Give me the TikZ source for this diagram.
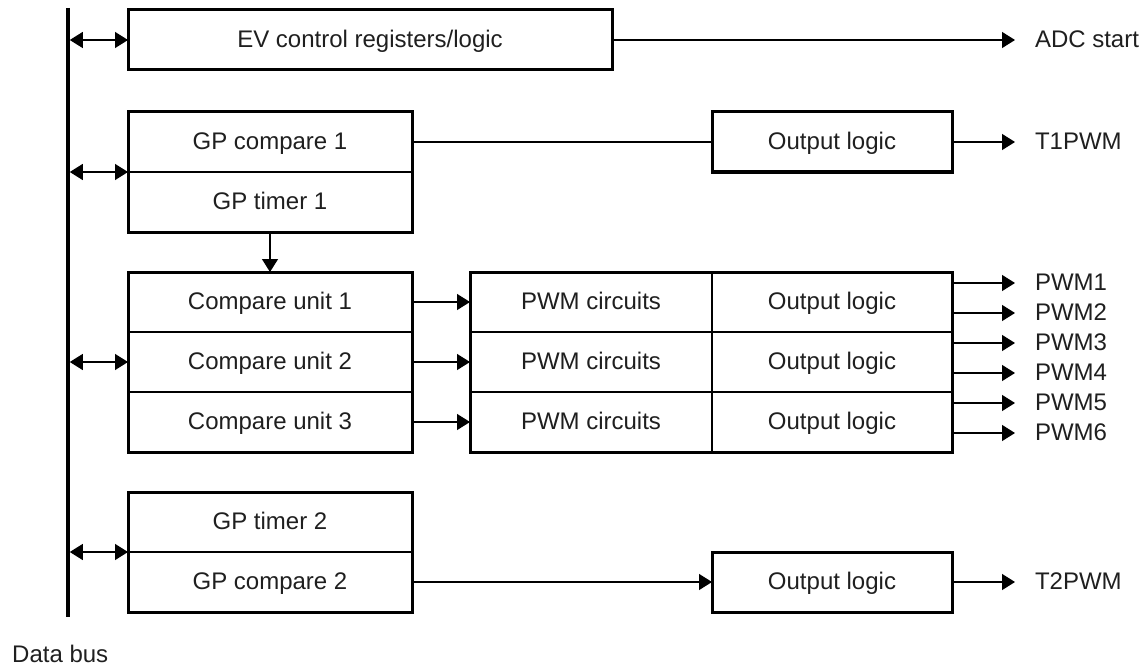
\documentclass[tikz,border=0pt]{standalone}
\usepackage{fontspec}
\setmainfont{Liberation Sans}
\usetikzlibrary{arrows.meta}
\begin{document}
\begin{tikzpicture}[x=1pt,y=-1pt,
  >={Triangle[length=13pt,width=16pt]},
  txt/.style={font=\fontsize{24}{28}\selectfont, text=black!88},
  cell/.style={txt, draw, line width=1.3pt, inner sep=0pt, outer sep=0pt, minimum height=60pt,
    text height=17.3pt, text depth=1.9pt},
  wide/.style={cell, minimum width=284pt},
  half/.style={cell, minimum width=240pt},
  pwmc/.style={cell, minimum width=242pt},
  frame/.style={draw, line width=3pt},
  conn/.style={line width=1.3pt},
  outlbl/.style={txt, anchor=west, inner xsep=20pt, inner ysep=0pt, outer sep=0pt,
    text height=17.3pt, text depth=1.9pt},
  busline/.style={line width=3.5pt}
]
\useasboundingbox (0,0) rectangle (1146,666);

% data bus
\coordinate (bustop) at (68,8);
\coordinate (busbot) at (68,617);
\draw[busline] (bustop) -- (busbot);
\node[txt, anchor=base west, inner sep=0pt] (dbus) at (12,662) {Data bus};

% EV control
\node[cell, minimum width=484pt] (ev) at (370,40) {EV control registers/logic};
\draw[frame] (ev.north west) rectangle (ev.south east);
\node[outlbl] (adc) at (1015,40) {ADC start};
\draw[conn,->] (ev.east) -- (adc.west);
\draw[conn,<->,shorten <=1.8pt] (ev.west -| bustop) -- (ev.west);

% GP compare 1 / timer 1
\node[wide] (gpc1) at (270,142) {GP compare 1};
\node[wide] (gpt1) at (270,202) {GP timer 1};
\draw[frame] (gpc1.north west) rectangle (gpt1.south east);
\node[half] (ol1) at (832,142) {Output logic};
\draw[frame] (ol1.north west) rectangle (ol1.south east);
\draw[conn] (gpc1.east) -- (ol1.west);
\node[outlbl] (t1) at (1015,142) {T1PWM};
\draw[conn,->] (ol1.east) -- (t1.west);
\draw[conn,<->,shorten <=1.8pt] (gpc1.south west -| bustop) -- (gpc1.south west);

% compare units
\node[wide] (cu1) at (270,302) {Compare unit 1};
\node[wide] (cu2) at (270,362) {Compare unit 2};
\node[wide] (cu3) at (270,422) {Compare unit 3};
\draw[frame] (cu1.north west) rectangle (cu3.south east);
\draw[conn,->] (gpt1.south) -- (cu1.north);
\draw[conn,<->,shorten <=1.8pt] (cu2.west -| bustop) -- (cu2.west);

% PWM circuits / output logic
\node[pwmc] (pc1) at (591,302) {PWM circuits};
\node[pwmc] (pc2) at (591,362) {PWM circuits};
\node[pwmc] (pc3) at (591,422) {PWM circuits};
\node[half] (po1) at (832,302) {Output logic};
\node[half] (po2) at (832,362) {Output logic};
\node[half] (po3) at (832,422) {Output logic};
\draw[frame] (pc1.north west) rectangle (po3.south east);
\draw[conn,->] (cu1.east) -- (pc1.west);
\draw[conn,->] (cu2.east) -- (pc2.west);
\draw[conn,->] (cu3.east) -- (pc3.west);

\foreach \i/\y in {1/283,2/313,3/343,4/373,5/403,6/433}{
  \node[outlbl] (pwm\i) at (1015,\y) {PWM\i};
  \draw[conn,->] (pwm\i.west -| po1.east) -- (pwm\i.west);
}

% GP timer 2 / compare 2
\node[wide] (gpt2) at (270,522) {GP timer 2};
\node[wide] (gpc2) at (270,582) {GP compare 2};
\draw[frame] (gpt2.north west) rectangle (gpc2.south east);
\node[half] (ol3) at (832,582) {Output logic};
\draw[frame] (ol3.north west) rectangle (ol3.south east);
\draw[conn,->] (gpc2.east) -- (ol3.west);
\node[outlbl] (t2) at (1015,582) {T2PWM};
\draw[conn,->] (ol3.east) -- (t2.west);
\draw[conn,<->,shorten <=1.8pt] (gpt2.south west -| bustop) -- (gpt2.south west);
\end{tikzpicture}
\end{document}
